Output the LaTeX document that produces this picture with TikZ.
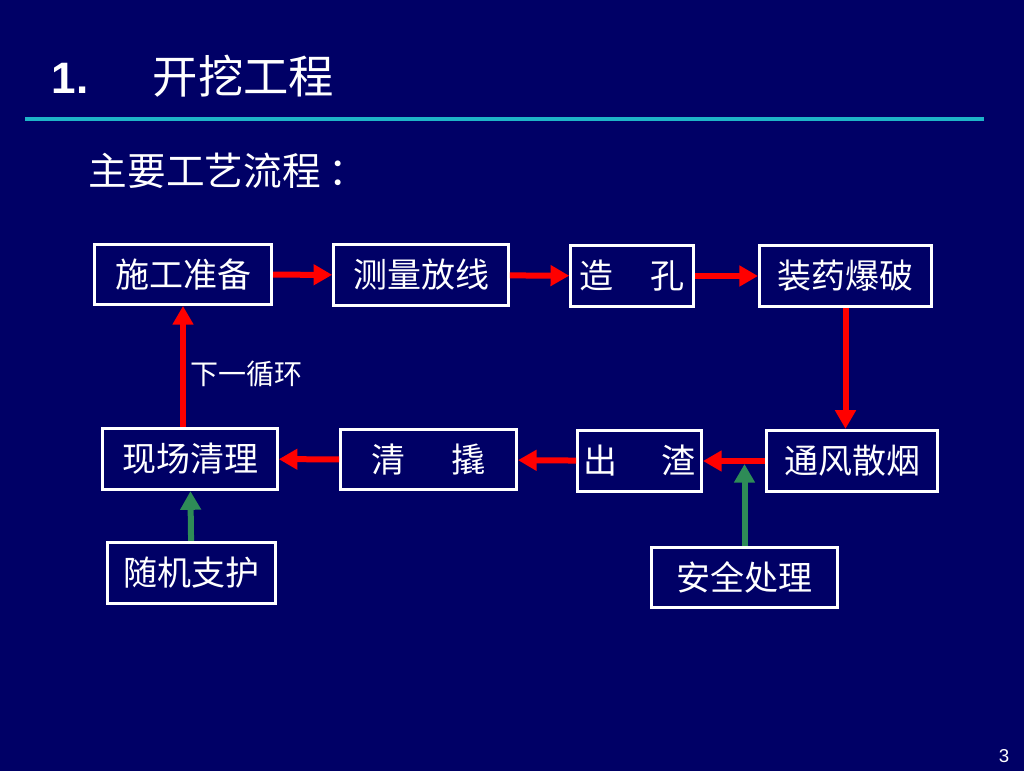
\documentclass[tikz,border=0pt]{standalone}
\usepackage{fontspec}
\setmainfont{Liberation Sans}
\newfontfamily\cjk{Noto Sans CJK SC}
\usetikzlibrary{arrows.meta}
\definecolor{navy}{RGB}{0,0,102}
\definecolor{rulecyan}{RGB}{30,180,200}
\definecolor{seagreen}{RGB}{46,139,87}

\begin{document}
\begin{tikzpicture}[x=0.75pt, y=-0.75pt,
		box/.style={draw=white, line width=2.2pt, rectangle, inner sep=0pt, text=white, font=\cjk\fontsize{25.5}{30}\selectfont},
		flow/.style={draw=red, line width=4.5pt, -{Triangle[width=15pt, length=14pt]}},
		aid/.style={draw=seagreen, line width=4.5pt, -{Triangle[width=15pt, length=14pt]}}]
				\fill[navy] (0,0) rectangle (1024,771);
				\node[anchor=base west, text=white, font=\bfseries\fontsize{33}{40}\selectfont] (N)at(47, 93) {1.};
				\node[anchor=base west, text=white, font=\cjk\fontsize{34}{40}\selectfont] (T)at(148, 93) {开挖工程};
				\draw[rulecyan, line width=3pt] (25, 118.5) -- (984, 118.5);
				\node[anchor=base west, text=white, font=\cjk\fontsize{29}{34}\selectfont] (S)at(84, 185) {主要工艺流程\hspace{0.2em}：};
				\node[box, minimum width=133pt, minimum height=45pt] (A)at(183, 274.5) {施工准备};
				\node[box, minimum width=131pt, minimum height=46pt] (B)at(421, 275) {测量放线};
				\node[box, minimum width=92pt, minimum height=46pt] (C)at(632, 276) {造\hspace{1.1em}孔};
				\node[box, minimum width=129pt, minimum height=46pt] (D)at(845.5, 276) {装药爆破};
				\node[box, minimum width=128pt, minimum height=46pt] (E)at(852, 461) {通风散烟};
				\node[box, minimum width=93pt, minimum height=46pt] (F)at(639.5, 461) {出\hspace{1.3em}渣};
				\node[box, minimum width=132pt, minimum height=45pt] (G)at(428.5, 459.5) {清\hspace{1.35em}撬};
				\node[box, minimum width=131pt, minimum height=46pt] (H)at(190, 459) {现场清理};
				\node[box, minimum width=126pt, minimum height=46pt] (I)at(191.5, 573) {随机支护};
				\node[box, minimum width=140pt, minimum height=45pt] (J)at(744.5, 577.5) {安全处理};
				\node[anchor=west, text=white, font=\cjk\fontsize{21}{24}\selectfont] (L)at(186, 374) {下一循环};
				\node[anchor=base east, text=white, font=\fontsize{14}{16}\selectfont] (P)at(1014, 762) {3};
				\coordinate (K)at(744.5, 464);
				\draw[flow] (A) -- (B);
				\draw[flow] (B) -- (C);
				\draw[flow] (C) -- (D);
				\draw[flow] (D.south) -- (D.south |- E.north);
				\draw[flow] (E) -- (F);
				\draw[flow] (F) -- (G);
				\draw[flow] (G) -- (H);
				\draw[flow] (H.north -| A.south) -- (A.south);
				\draw[aid] (I) -- (H);
				\draw[aid] (J) -- (K);
			\end{tikzpicture}
\end{document}
